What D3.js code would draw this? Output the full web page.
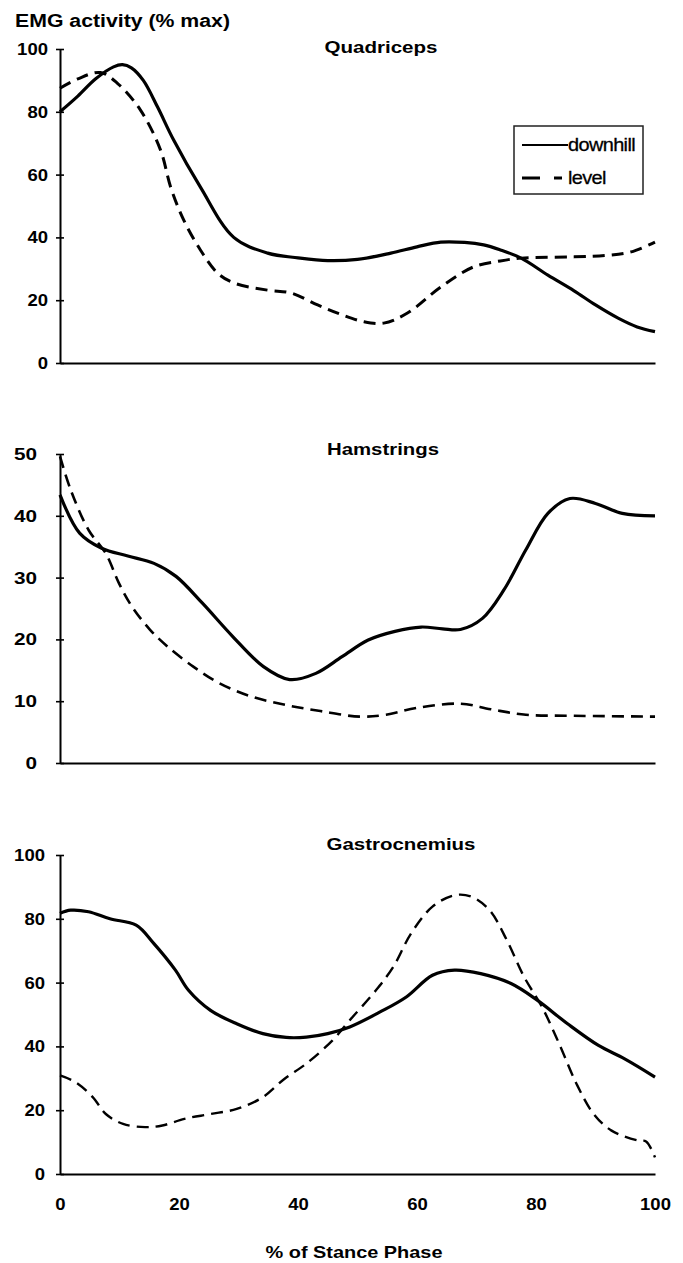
<!DOCTYPE html>
<html lang="en">
<head>
<meta charset="UTF-8">
<title>EMG activity</title>
<script src="https://cdnjs.cloudflare.com/ajax/libs/d3/7.8.5/d3.min.js"></script>
<style>
  body { margin: 0; background: #fff; }
  text { font-family: "Liberation Sans", Arial, sans-serif; fill: #000; }
</style>
</head>
<body>
<script type="text/javascript">

var w = 683;
var h = 1263;

// % of stance phase, EMG (% max) pairs
var quadDownhill = [[0,80],[3,85],[6,90.5],[9,94.3],[10.5,95],[12,94],[14,90],[16.4,81.5],[19.1,71],[23.6,56],[29.2,40],[34.9,35],[40,33.5],[45,32.6],[50,33],[55.6,35],[60,37],[64,38.5],[68,38.4],[71.2,37.6],[74,36],[77.5,33.4],[82,28],[86.4,23],[90,18.5],[93.8,14.3],[97,11.5],[100,10]];
var quadLevel = [[0,87.5],[3,90.5],[6.8,92.5],[9.7,89],[13.5,80.6],[16.9,67.8],[18.6,56],[20.8,45.5],[23.6,36],[26.5,28.6],[29.2,25.5],[34.9,23.2],[38.8,22.3],[43.3,18.5],[47.2,15.5],[51,13.2],[54.4,12.7],[58.4,15.9],[64,24.2],[69.5,30.6],[74,32.5],[77.5,33.4],[86.4,33.8],[92,34.3],[96,35.4],[100,38.5]];

var hamDownhill = [[0,43.4],[3.3,37.2],[7,34.75],[11.4,33.5],[15.8,32.3],[19.5,30.2],[23.9,25.9],[29,20.5],[34.2,15.6],[38.6,13.5],[43,14.5],[47.4,17.2],[51.8,19.9],[56.3,21.3],[60.7,22],[64.3,21.7],[67.3,21.6],[71,23.4],[74.6,28],[78.3,34.5],[82,40.4],[85.7,42.8],[90,42],[94.5,40.4],[100,40]];
var hamLevel = [[0,49.6],[1.8,44.2],[4.8,37.7],[7.7,33.9],[9.9,29.1],[12.1,25.3],[15.1,21.6],[18,18.9],[22.4,15.6],[26.8,12.9],[32,10.8],[37.9,9.4],[43.75,8.4],[50.4,7.5],[54.8,7.8],[59.9,8.9],[67.3,9.6],[72.4,8.7],[78.3,7.8],[85.7,7.65],[100,7.5]];

var gastDownhill = [[0,81.7],[1.8,82.7],[4.8,82.2],[8.4,80],[12.8,78],[15.75,72.3],[19.4,63.9],[21.6,57.6],[25.3,51.3],[29.7,47.1],[34.1,44],[38,42.8],[41.4,42.9],[45,44],[48.7,46.1],[53.8,50.8],[58.2,55.5],[62.6,62.3],[66.3,63.9],[70.7,62.8],[75.8,59.7],[80.2,54.5],[85.3,47.1],[90.5,40.3],[94.9,36.1],[100,30.4]];
var gastLevel = [[0,30.9],[2.6,28.8],[5.5,24.1],[7.7,18.8],[10.6,15.7],[14.3,14.7],[17.2,15.2],[20.9,17.3],[25.3,18.8],[29.7,20.4],[34.1,24.1],[37.7,29.8],[41.4,34.6],[45.8,41.9],[48.7,48.2],[53.1,57.6],[56,64.9],[59,75.4],[62.6,83.8],[66.3,87.4],[69.2,86.9],[72.2,82.7],[75.1,73.3],[78,61.8],[81,52.4],[83.9,40.8],[86.8,28.3],[89.7,18.8],[92.7,13.6],[97.1,10.5],[98.5,10.2],[100,5.2]];

var muscleNames = ["Quadriceps", "Hamstrings", "Gastrocnemius"];
var yMax = [100, 50, 100];
var yTicks = [[0,20,40,60,80,100], [0,10,20,30,40,50], [0,20,40,60,80,100]];
var xTicks = [0, 20, 40, 60, 80, 100];
var seriesNames = ["downhill", "level"];

// layout
var panels = [
    {name: muscleNames[0], max: yMax[0], ticks: yTicks[0], data: [quadDownhill, quadLevel], top: 49, bottom: 363, labelGap: 8, titleX: 381, titleY: 53, titleLen: 113, dashW: 3},
    {name: muscleNames[1], max: yMax[1], ticks: yTicks[1], data: [hamDownhill, hamLevel], top: 454, bottom: 763, labelGap: 19, titleX: 383, titleY: 455, titleLen: 112, dashW: 2.6},
    {name: muscleNames[2], max: yMax[2], ticks: yTicks[2], data: [gastDownhill, gastLevel], top: 855, bottom: 1174, labelGap: 11, titleX: 401, titleY: 850, titleLen: 149, dashW: 2.4}
];

function stretch(sel, f) {
    sel.each(function () {
        var t = d3.select(this);
        var x = +t.attr("x") || 0;
        t.attr("x", x / f).attr("transform", "scale(" + f + ",1)");
    });
}

var x = d3.scaleLinear().domain([0, 100]).range([60, 655]);

var svg = d3.select("body")
    .append("svg")
    .attr("width", w)
    .attr("height", h);

var line = d3.line()
    .x(function(d) { return x(d[0]); })
    .curve(d3.curveCatmullRom.alpha(0.5));

panels.forEach(function(p, i) {
    var y = d3.scaleLinear().domain([0, p.max]).range([p.bottom, p.top]);

    var yAxis = svg.append("g")
        .attr("transform", "translate(" + x(0) + ",0)")
        .call(d3.axisLeft(y).tickValues(p.ticks).tickSizeOuter(0).tickSizeInner(4).tickPadding(p.labelGap));
    yAxis.select(".domain").attr("stroke-width", 2);
    yAxis.selectAll(".tick line").attr("x1", -4).attr("x2", 4).attr("stroke-width", 1.6);
    yAxis.selectAll(".tick text")
        .attr("font-size", 17)
        .attr("font-weight", "bold")
        .attr("font-family", "Liberation Sans, Arial, sans-serif");
    stretch(yAxis.selectAll(".tick text"), i == 1 ? 1.22 : 1.09);

    var xAxis = svg.append("g")
        .attr("transform", "translate(0," + p.bottom + ")")
        .call(d3.axisBottom(x).tickValues(i == 2 ? xTicks : []).tickSize(0).tickSizeOuter(0));
    xAxis.select(".domain").attr("stroke-width", 2);
    xAxis.selectAll(".tick text")
        .attr("y", 30)
        .attr("dy", "0.35em")
        .attr("font-size", 17)
        .attr("font-weight", "bold")
        .attr("font-family", "Liberation Sans, Arial, sans-serif");
    stretch(xAxis.selectAll(".tick text"), 1.09);

    line.y(function(d) { return y(d[1]); });

    svg.append("path")
        .attr("d", line(p.data[0]))
        .attr("fill", "none")
        .attr("stroke", "#000")
        .attr("stroke-width", 3.2);

    svg.append("path")
        .attr("d", line(p.data[1]))
        .attr("fill", "none")
        .attr("stroke", "#000")
        .attr("stroke-width", p.dashW)
        .attr("stroke-dasharray", "12,7");

    svg.append("text")
        .attr("x", p.titleX)
        .attr("y", p.titleY)
        .attr("text-anchor", "middle")
        .attr("font-size", 17)
        .attr("font-weight", "bold")
        .attr("textLength", p.titleLen)
        .attr("lengthAdjust", "spacingAndGlyphs")
        .text(p.name);
});

// axis titles
svg.append("text")
    .attr("x", 15)
    .attr("y", 27)
    .attr("font-size", 18)
    .attr("font-weight", "bold")
    .attr("textLength", 215)
    .attr("lengthAdjust", "spacingAndGlyphs")
    .text("EMG activity (% max)");

svg.append("text")
    .attr("x", 354)
    .attr("y", 1258)
    .attr("text-anchor", "middle")
    .attr("font-size", 17)
    .attr("font-weight", "bold")
    .attr("textLength", 177)
    .attr("lengthAdjust", "spacingAndGlyphs")
    .text("% of Stance Phase");

// legend
var legend = svg.append("g");
legend.append("rect")
    .attr("x", 514).attr("y", 126)
    .attr("width", 129).attr("height", 68)
    .attr("fill", "#fff")
    .attr("stroke", "#222")
    .attr("stroke-width", 1.5);

legend.selectAll(".key")
    .data(seriesNames)
    .enter()
    .append("line")
    .attr("x1", 522)
    .attr("x2", function(d, i) { return i == 0 ? 568 : 562; })
    .attr("y1", function(d, i) { return i == 0 ? 145 : 178; })
    .attr("y2", function(d, i) { return i == 0 ? 145 : 178; })
    .attr("stroke", "#000")
    .attr("stroke-width", function(d, i) { return i == 0 ? 2 : 3; })
    .attr("stroke-dasharray", function(d, i) { return i == 0 ? null : "18,14"; });

var legendText = legend.selectAll(".lab")
    .data(seriesNames)
    .enter()
    .append("text")
    .attr("x", 568)
    .attr("y", function(d, i) { return i == 0 ? 151 : 184; })
    .attr("font-size", 19)
    .attr("letter-spacing", -0.6)
    .attr("stroke", "#000")
    .attr("stroke-width", 0.3)
    .text(function(d) { return d; });
stretch(legendText, 1.05);

</script>
</body>
</html>
